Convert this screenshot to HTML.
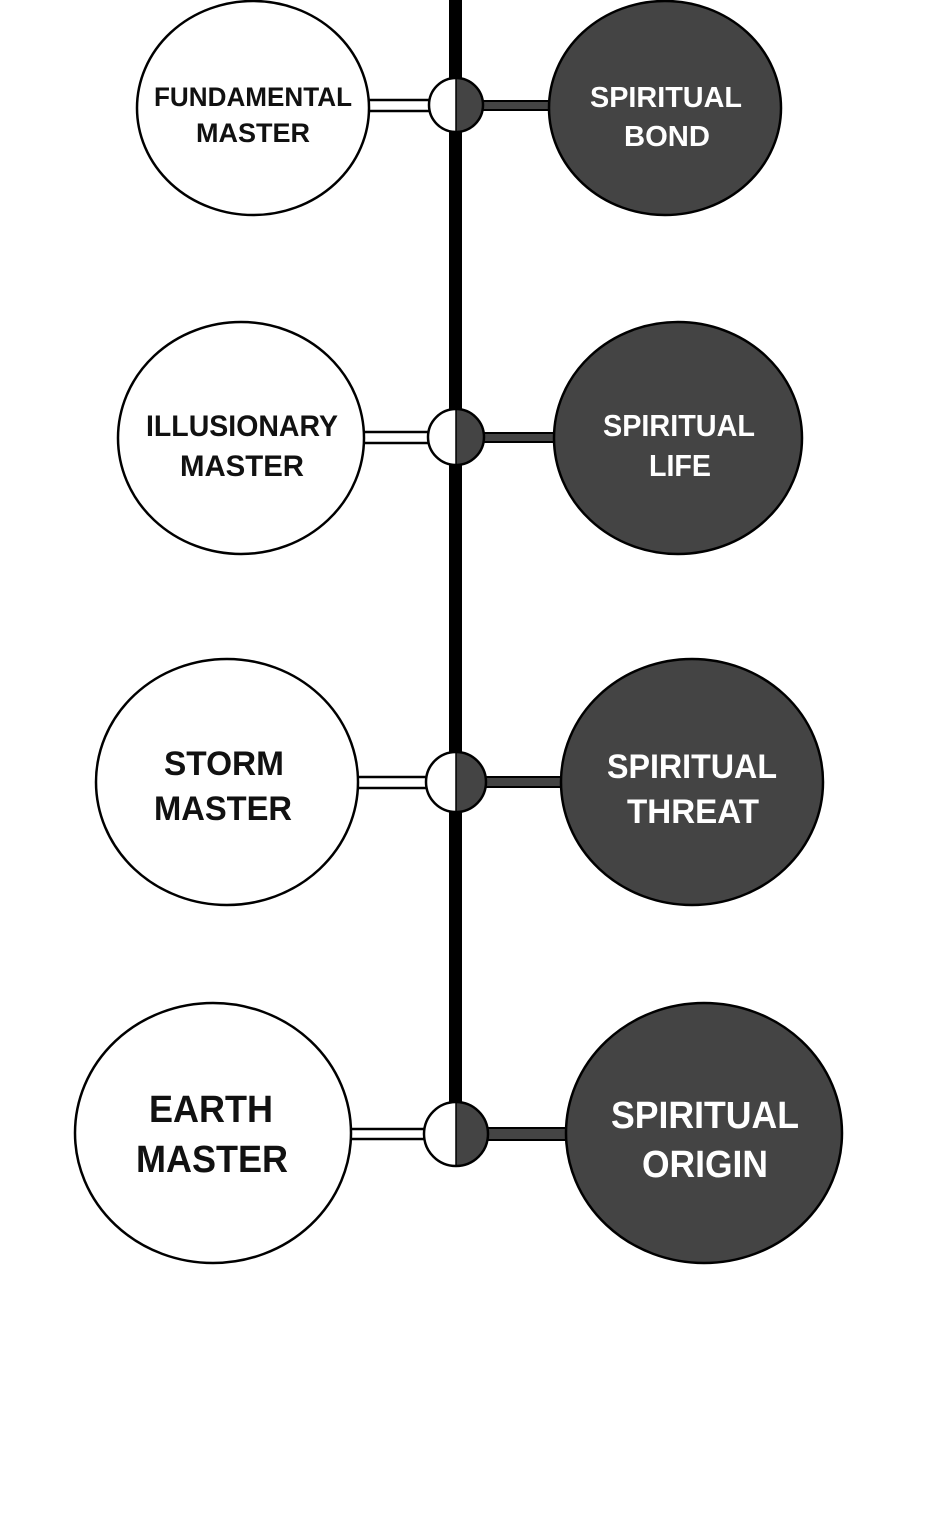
<!DOCTYPE html>
<html><head><meta charset="utf-8"><style>
html,body{margin:0;padding:0;background:#fff;}
svg{display:block;}
text{font-family:"Liberation Sans",sans-serif;font-weight:bold;text-anchor:middle;}
</style></head><body>
<svg width="940" height="1533" viewBox="0 0 940 1533" xmlns="http://www.w3.org/2000/svg">
<rect width="940" height="1533" fill="#fff"/>
<!-- vertical spine -->
<rect x="449" y="0" width="13" height="1110" fill="#000"/>

<!-- Row 1 -->
<g>
<rect x="360" y="100" width="80" height="11" fill="#fff" stroke="#000" stroke-width="2.5"/>
<rect x="470" y="101" width="90" height="9" fill="#444" stroke="#000" stroke-width="2"/>
<ellipse cx="253" cy="108" rx="116" ry="107" fill="#fff" stroke="#000" stroke-width="2.5"/>
<ellipse cx="665" cy="108" rx="116" ry="107" fill="#444" stroke="#000" stroke-width="2.5"/>
<circle cx="456" cy="105" r="27" fill="#fff"/>
<path d="M456 78 A27 27 0 0 1 456 132 Z" fill="#444"/>
<circle cx="456" cy="105" r="27" fill="none" stroke="#000" stroke-width="2.5"/>
<line x1="456" y1="78" x2="456" y2="132" stroke="#000" stroke-width="1.5"/>
<text x="253" y="106" font-size="27" textLength="198" lengthAdjust="spacingAndGlyphs" fill="#111">FUNDAMENTAL</text>
<text x="253" y="142" font-size="27" textLength="114" lengthAdjust="spacingAndGlyphs" fill="#111">MASTER</text>
<text x="666" y="107" font-size="29" textLength="152" lengthAdjust="spacingAndGlyphs" fill="#fff">SPIRITUAL</text>
<text x="667" y="146" font-size="29" textLength="86" lengthAdjust="spacingAndGlyphs" fill="#fff">BOND</text>
</g>

<!-- Row 2 -->
<g>
<rect x="355" y="432" width="80" height="11" fill="#fff" stroke="#000" stroke-width="2.5"/>
<rect x="472" y="433" width="90" height="9" fill="#444" stroke="#000" stroke-width="2"/>
<ellipse cx="241" cy="438" rx="123" ry="116" fill="#fff" stroke="#000" stroke-width="2.5"/>
<ellipse cx="678" cy="438" rx="124" ry="116" fill="#444" stroke="#000" stroke-width="2.5"/>
<circle cx="456" cy="437" r="28" fill="#fff"/>
<path d="M456 409 A28 28 0 0 1 456 465 Z" fill="#444"/>
<circle cx="456" cy="437" r="28" fill="none" stroke="#000" stroke-width="2.5"/>
<line x1="456" y1="409" x2="456" y2="465" stroke="#000" stroke-width="1.5"/>
<text x="242" y="436" font-size="30" textLength="192" lengthAdjust="spacingAndGlyphs" fill="#111">ILLUSIONARY</text>
<text x="242" y="476" font-size="30" textLength="124" lengthAdjust="spacingAndGlyphs" fill="#111">MASTER</text>
<text x="679" y="436" font-size="31" textLength="152" lengthAdjust="spacingAndGlyphs" fill="#fff">SPIRITUAL</text>
<text x="680" y="476" font-size="31" textLength="62" lengthAdjust="spacingAndGlyphs" fill="#fff">LIFE</text>
</g>

<!-- Row 3 -->
<g>
<rect x="348" y="777" width="90" height="11" fill="#fff" stroke="#000" stroke-width="2.5"/>
<rect x="474" y="777" width="95" height="10" fill="#444" stroke="#000" stroke-width="2"/>
<ellipse cx="227" cy="782" rx="131" ry="123" fill="#fff" stroke="#000" stroke-width="2.5"/>
<ellipse cx="692" cy="782" rx="131" ry="123" fill="#444" stroke="#000" stroke-width="2.5"/>
<circle cx="456" cy="782" r="30" fill="#fff"/>
<path d="M456 752 A30 30 0 0 1 456 812 Z" fill="#444"/>
<circle cx="456" cy="782" r="30" fill="none" stroke="#000" stroke-width="2.5"/>
<line x1="456" y1="752" x2="456" y2="812" stroke="#000" stroke-width="1.5"/>
<text x="224" y="775" font-size="34" textLength="120" lengthAdjust="spacingAndGlyphs" fill="#111">STORM</text>
<text x="223" y="820" font-size="34" textLength="138" lengthAdjust="spacingAndGlyphs" fill="#111">MASTER</text>
<text x="692" y="778" font-size="34" textLength="170" lengthAdjust="spacingAndGlyphs" fill="#fff">SPIRITUAL</text>
<text x="693" y="823" font-size="34" textLength="132" lengthAdjust="spacingAndGlyphs" fill="#fff">THREAT</text>
</g>

<!-- Row 4 -->
<g>
<rect x="340" y="1129" width="100" height="10" fill="#fff" stroke="#000" stroke-width="2.5"/>
<rect x="476" y="1128" width="100" height="12" fill="#444" stroke="#000" stroke-width="2"/>
<ellipse cx="213" cy="1133" rx="138" ry="130" fill="#fff" stroke="#000" stroke-width="2.5"/>
<ellipse cx="704" cy="1133" rx="138" ry="130" fill="#444" stroke="#000" stroke-width="2.5"/>
<circle cx="456" cy="1134" r="32" fill="#fff"/>
<path d="M456 1102 A32 32 0 0 1 456 1166 Z" fill="#444"/>
<circle cx="456" cy="1134" r="32" fill="none" stroke="#000" stroke-width="2.5"/>
<line x1="456" y1="1102" x2="456" y2="1166" stroke="#000" stroke-width="1.5"/>
<text x="211" y="1122" font-size="38" textLength="124" lengthAdjust="spacingAndGlyphs" fill="#111">EARTH</text>
<text x="212" y="1172" font-size="38" textLength="152" lengthAdjust="spacingAndGlyphs" fill="#111">MASTER</text>
<text x="705" y="1128" font-size="38" textLength="188" lengthAdjust="spacingAndGlyphs" fill="#fff">SPIRITUAL</text>
<text x="705" y="1177" font-size="38" textLength="126" lengthAdjust="spacingAndGlyphs" fill="#fff">ORIGIN</text>
</g>
</svg>
</body></html>
